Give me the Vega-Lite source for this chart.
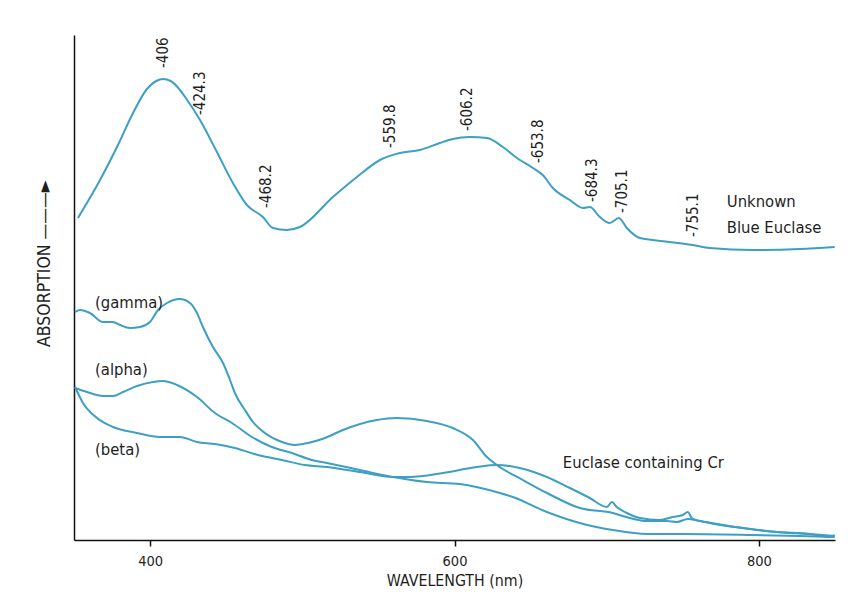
{
  "$schema": "https://vega.github.io/schema/vega-lite/v6.json",
  "autosize": {"type": "none"},
  "width": 761,
  "height": 505,
  "padding": {"left": 74, "top": 35, "right": 16, "bottom": 58},
  "background": "white",
  "config": {
    "view": {"stroke": null},
    "font": "DejaVu Sans Condensed, Liberation Sans, sans-serif",
    "axis": {"grid": false, "labelFont": "DejaVu Sans Condensed, Liberation Sans, sans-serif", "titleFont": "DejaVu Sans Condensed, Liberation Sans, sans-serif", "titleFontWeight": "normal", "labelColor": "#1e1e1e", "titleColor": "#1e1e1e", "domainColor": "#111", "tickColor": "#111"}
  },
  "datasets": {
    "curves": [
      {"s": "blue", "wl": 352.6, "a": 322}, {"s": "blue", "wl": 367.1, "a": 360}, {"s": "blue", "wl": 378.9, "a": 395}, {"s": "blue", "wl": 388.8, "a": 427}, {"s": "blue", "wl": 397.9, "a": 451}, {"s": "blue", "wl": 404.0, "a": 459}, {"s": "blue", "wl": 408.5, "a": 461}, {"s": "blue", "wl": 413.5, "a": 459}, {"s": "blue", "wl": 418.0, "a": 453}, {"s": "blue", "wl": 423.0, "a": 443}, {"s": "blue", "wl": 432.8, "a": 420}, {"s": "blue", "wl": 443.9, "a": 388}, {"s": "blue", "wl": 454.4, "a": 357}, {"s": "blue", "wl": 463.6, "a": 335}, {"s": "blue", "wl": 474.1, "a": 323}, {"s": "blue", "wl": 480.7, "a": 312}, {"s": "blue", "wl": 489.9, "a": 310}, {"s": "blue", "wl": 498.4, "a": 313}, {"s": "blue", "wl": 520.1, "a": 343}, {"s": "blue", "wl": 535.9, "a": 363}, {"s": "blue", "wl": 551.0, "a": 380}, {"s": "blue", "wl": 564.1, "a": 387}, {"s": "blue", "wl": 577.3, "a": 390}, {"s": "blue", "wl": 590.4, "a": 397}, {"s": "blue", "wl": 598.9, "a": 401}, {"s": "blue", "wl": 610.1, "a": 403}, {"s": "blue", "wl": 621.3, "a": 402}, {"s": "blue", "wl": 631.8, "a": 393}, {"s": "blue", "wl": 641.0, "a": 382}, {"s": "blue", "wl": 651.5, "a": 372}, {"s": "blue", "wl": 658.0, "a": 365}, {"s": "blue", "wl": 664.6, "a": 352}, {"s": "blue", "wl": 675.8, "a": 340}, {"s": "blue", "wl": 684.3, "a": 332}, {"s": "blue", "wl": 688.9, "a": 333}, {"s": "blue", "wl": 695.5, "a": 323}, {"s": "blue", "wl": 702.0, "a": 317}, {"s": "blue", "wl": 708.0, "a": 322}, {"s": "blue", "wl": 713.2, "a": 312}, {"s": "blue", "wl": 721.8, "a": 302}, {"s": "blue", "wl": 730.3, "a": 300}, {"s": "blue", "wl": 756.6, "a": 295}, {"s": "blue", "wl": 767.7, "a": 292}, {"s": "blue", "wl": 796.0, "a": 290}, {"s": "blue", "wl": 826.8, "a": 291}, {"s": "blue", "wl": 849.8, "a": 293},
      {"s": "gamma", "wl": 350.7, "a": 228}, {"s": "gamma", "wl": 353.9, "a": 230}, {"s": "gamma", "wl": 360.5, "a": 227}, {"s": "gamma", "wl": 369.0, "a": 218}, {"s": "gamma", "wl": 375.6, "a": 218}, {"s": "gamma", "wl": 380.2, "a": 215}, {"s": "gamma", "wl": 386.8, "a": 212}, {"s": "gamma", "wl": 393.3, "a": 213}, {"s": "gamma", "wl": 399.9, "a": 218}, {"s": "gamma", "wl": 405.2, "a": 230}, {"s": "gamma", "wl": 411.1, "a": 237}, {"s": "gamma", "wl": 419.6, "a": 241}, {"s": "gamma", "wl": 426.2, "a": 237}, {"s": "gamma", "wl": 430.8, "a": 227}, {"s": "gamma", "wl": 434.7, "a": 213}, {"s": "gamma", "wl": 441.3, "a": 193}, {"s": "gamma", "wl": 447.9, "a": 177}, {"s": "gamma", "wl": 452.5, "a": 160}, {"s": "gamma", "wl": 455.7, "a": 147}, {"s": "gamma", "wl": 462.3, "a": 130}, {"s": "gamma", "wl": 467.6, "a": 118}, {"s": "gamma", "wl": 475.4, "a": 107}, {"s": "gamma", "wl": 486.6, "a": 98}, {"s": "gamma", "wl": 495.2, "a": 95}, {"s": "gamma", "wl": 503.7, "a": 97}, {"s": "gamma", "wl": 514.9, "a": 102}, {"s": "gamma", "wl": 526.7, "a": 110}, {"s": "gamma", "wl": 549.0, "a": 120}, {"s": "gamma", "wl": 562.2, "a": 122}, {"s": "gamma", "wl": 581.9, "a": 119}, {"s": "gamma", "wl": 598.9, "a": 112}, {"s": "gamma", "wl": 612.1, "a": 100}, {"s": "gamma", "wl": 621.3, "a": 83}, {"s": "gamma", "wl": 627.8, "a": 75}, {"s": "gamma", "wl": 644.9, "a": 60}, {"s": "gamma", "wl": 660.7, "a": 47}, {"s": "gamma", "wl": 682.3, "a": 32}, {"s": "gamma", "wl": 704.0, "a": 27}, {"s": "gamma", "wl": 715.2, "a": 22}, {"s": "gamma", "wl": 726.4, "a": 19}, {"s": "gamma", "wl": 739.5, "a": 19}, {"s": "gamma", "wl": 746.1, "a": 18}, {"s": "gamma", "wl": 753.3, "a": 21}, {"s": "gamma", "wl": 761.2, "a": 19}, {"s": "gamma", "wl": 789.4, "a": 12}, {"s": "gamma", "wl": 811.7, "a": 8}, {"s": "gamma", "wl": 833.4, "a": 6}, {"s": "gamma", "wl": 849.8, "a": 4},
      {"s": "alpha", "wl": 350.7, "a": 152}, {"s": "alpha", "wl": 358.5, "a": 148}, {"s": "alpha", "wl": 369.0, "a": 144}, {"s": "alpha", "wl": 375.6, "a": 144}, {"s": "alpha", "wl": 382.2, "a": 148}, {"s": "alpha", "wl": 391.4, "a": 154}, {"s": "alpha", "wl": 401.9, "a": 158}, {"s": "alpha", "wl": 408.5, "a": 159}, {"s": "alpha", "wl": 417.7, "a": 155}, {"s": "alpha", "wl": 430.8, "a": 143}, {"s": "alpha", "wl": 442.6, "a": 127}, {"s": "alpha", "wl": 453.8, "a": 117}, {"s": "alpha", "wl": 466.9, "a": 103}, {"s": "alpha", "wl": 480.0, "a": 93}, {"s": "alpha", "wl": 493.2, "a": 87}, {"s": "alpha", "wl": 506.3, "a": 80}, {"s": "alpha", "wl": 516.2, "a": 77}, {"s": "alpha", "wl": 537.8, "a": 70}, {"s": "alpha", "wl": 559.5, "a": 63}, {"s": "alpha", "wl": 581.9, "a": 58}, {"s": "alpha", "wl": 603.5, "a": 56}, {"s": "alpha", "wl": 629.8, "a": 47}, {"s": "alpha", "wl": 638.3, "a": 43}, {"s": "alpha", "wl": 660.7, "a": 28}, {"s": "alpha", "wl": 682.3, "a": 17}, {"s": "alpha", "wl": 704.0, "a": 10}, {"s": "alpha", "wl": 726.4, "a": 6}, {"s": "alpha", "wl": 748.0, "a": 6}, {"s": "alpha", "wl": 796.0, "a": 5}, {"s": "alpha", "wl": 826.8, "a": 4}, {"s": "alpha", "wl": 849.8, "a": 3},
      {"s": "beta", "wl": 350.7, "a": 153}, {"s": "beta", "wl": 355.9, "a": 137}, {"s": "beta", "wl": 365.1, "a": 122}, {"s": "beta", "wl": 375.6, "a": 113}, {"s": "beta", "wl": 391.4, "a": 107}, {"s": "beta", "wl": 406.5, "a": 103}, {"s": "beta", "wl": 419.6, "a": 103}, {"s": "beta", "wl": 430.8, "a": 98}, {"s": "beta", "wl": 442.6, "a": 96}, {"s": "beta", "wl": 455.7, "a": 92}, {"s": "beta", "wl": 470.9, "a": 85}, {"s": "beta", "wl": 486.6, "a": 80}, {"s": "beta", "wl": 501.7, "a": 75}, {"s": "beta", "wl": 516.2, "a": 73}, {"s": "beta", "wl": 537.8, "a": 68}, {"s": "beta", "wl": 559.5, "a": 63}, {"s": "beta", "wl": 570.7, "a": 63}, {"s": "beta", "wl": 592.4, "a": 67}, {"s": "beta", "wl": 614.7, "a": 73}, {"s": "beta", "wl": 627.8, "a": 75}, {"s": "beta", "wl": 642.9, "a": 72}, {"s": "beta", "wl": 660.7, "a": 63}, {"s": "beta", "wl": 675.8, "a": 52}, {"s": "beta", "wl": 688.9, "a": 42}, {"s": "beta", "wl": 700.1, "a": 33}, {"s": "beta", "wl": 703.4, "a": 38}, {"s": "beta", "wl": 706.6, "a": 33}, {"s": "beta", "wl": 713.2, "a": 27}, {"s": "beta", "wl": 721.8, "a": 22}, {"s": "beta", "wl": 734.9, "a": 20}, {"s": "beta", "wl": 743.4, "a": 23}, {"s": "beta", "wl": 750.0, "a": 25}, {"s": "beta", "wl": 753.3, "a": 28}, {"s": "beta", "wl": 755.9, "a": 22}, {"s": "beta", "wl": 767.7, "a": 17}, {"s": "beta", "wl": 789.4, "a": 12}, {"s": "beta", "wl": 811.7, "a": 8}, {"s": "beta", "wl": 833.4, "a": 6}, {"s": "beta", "wl": 846.5, "a": 3}, {"s": "beta", "wl": 849.8, "a": 5}
    ],
    "peaks": [
      {"label": "-406", "wl": 408.5, "a": 472},
      {"label": "-424.3", "wl": 432.8, "a": 425},
      {"label": "-468.2", "wl": 476.1, "a": 332},
      {"label": "-559.8", "wl": 557.6, "a": 392},
      {"label": "-606.2", "wl": 608.1, "a": 409},
      {"label": "-653.8", "wl": 654.8, "a": 377},
      {"label": "-684.3", "wl": 690.2, "a": 338},
      {"label": "-705.1", "wl": 709.9, "a": 327},
      {"label": "-755.1", "wl": 756.6, "a": 303}
    ],
    "notes": [
      {"label": "Unknown", "wl": 778.9, "a": 338},
      {"label": "Blue Euclase", "wl": 778.9, "a": 312},
      {"label": "Euclase containing Cr", "wl": 671.2, "a": 77},
      {"label": "(gamma)", "wl": 363.8, "a": 237},
      {"label": "(alpha)", "wl": 363.8, "a": 170},
      {"label": "(beta)", "wl": 363.8, "a": 90}
    ]
  },
  "layer": [
    {
      "data": {"name": "curves"},
      "mark": {"type": "line", "interpolate": "monotone", "strokeWidth": 2, "color": "#3d9fc4"},
      "encoding": {
        "x": {"field": "wl", "type": "quantitative", "scale": {"domain": [350, 850], "nice": false, "zero": false},
          "axis": {"values": [400, 600, 800], "title": "WAVELENGTH (nm)", "titleFontSize": 15.8, "labelFontSize": 14.5, "tickSize": 6, "tickWidth": 1.5, "domainWidth": 1.5, "labelPadding": 8, "titlePadding": 6}},
        "y": {"field": "a", "type": "quantitative", "scale": {"domain": [0, 505], "nice": false},
          "axis": {"ticks": false, "labels": false, "title": "ABSORPTION ———►", "titleFontSize": 17.5, "titlePadding": 21, "domainWidth": 1.5, "titleY": 228}},
        "detail": {"field": "s", "type": "nominal"}
      }
    },
    {
      "data": {"name": "peaks"},
      "mark": {"type": "text", "angle": 270, "align": "left", "baseline": "middle", "fontSize": 15, "color": "#1e1e1e"},
      "encoding": {
        "x": {"field": "wl", "type": "quantitative"},
        "y": {"field": "a", "type": "quantitative"},
        "text": {"field": "label"}
      }
    },
    {
      "data": {"name": "notes"},
      "mark": {"type": "text", "align": "left", "baseline": "middle", "fontSize": 16.5, "color": "#1e1e1e"},
      "encoding": {
        "x": {"field": "wl", "type": "quantitative"},
        "y": {"field": "a", "type": "quantitative"},
        "text": {"field": "label"}
      }
    }
  ]
}
